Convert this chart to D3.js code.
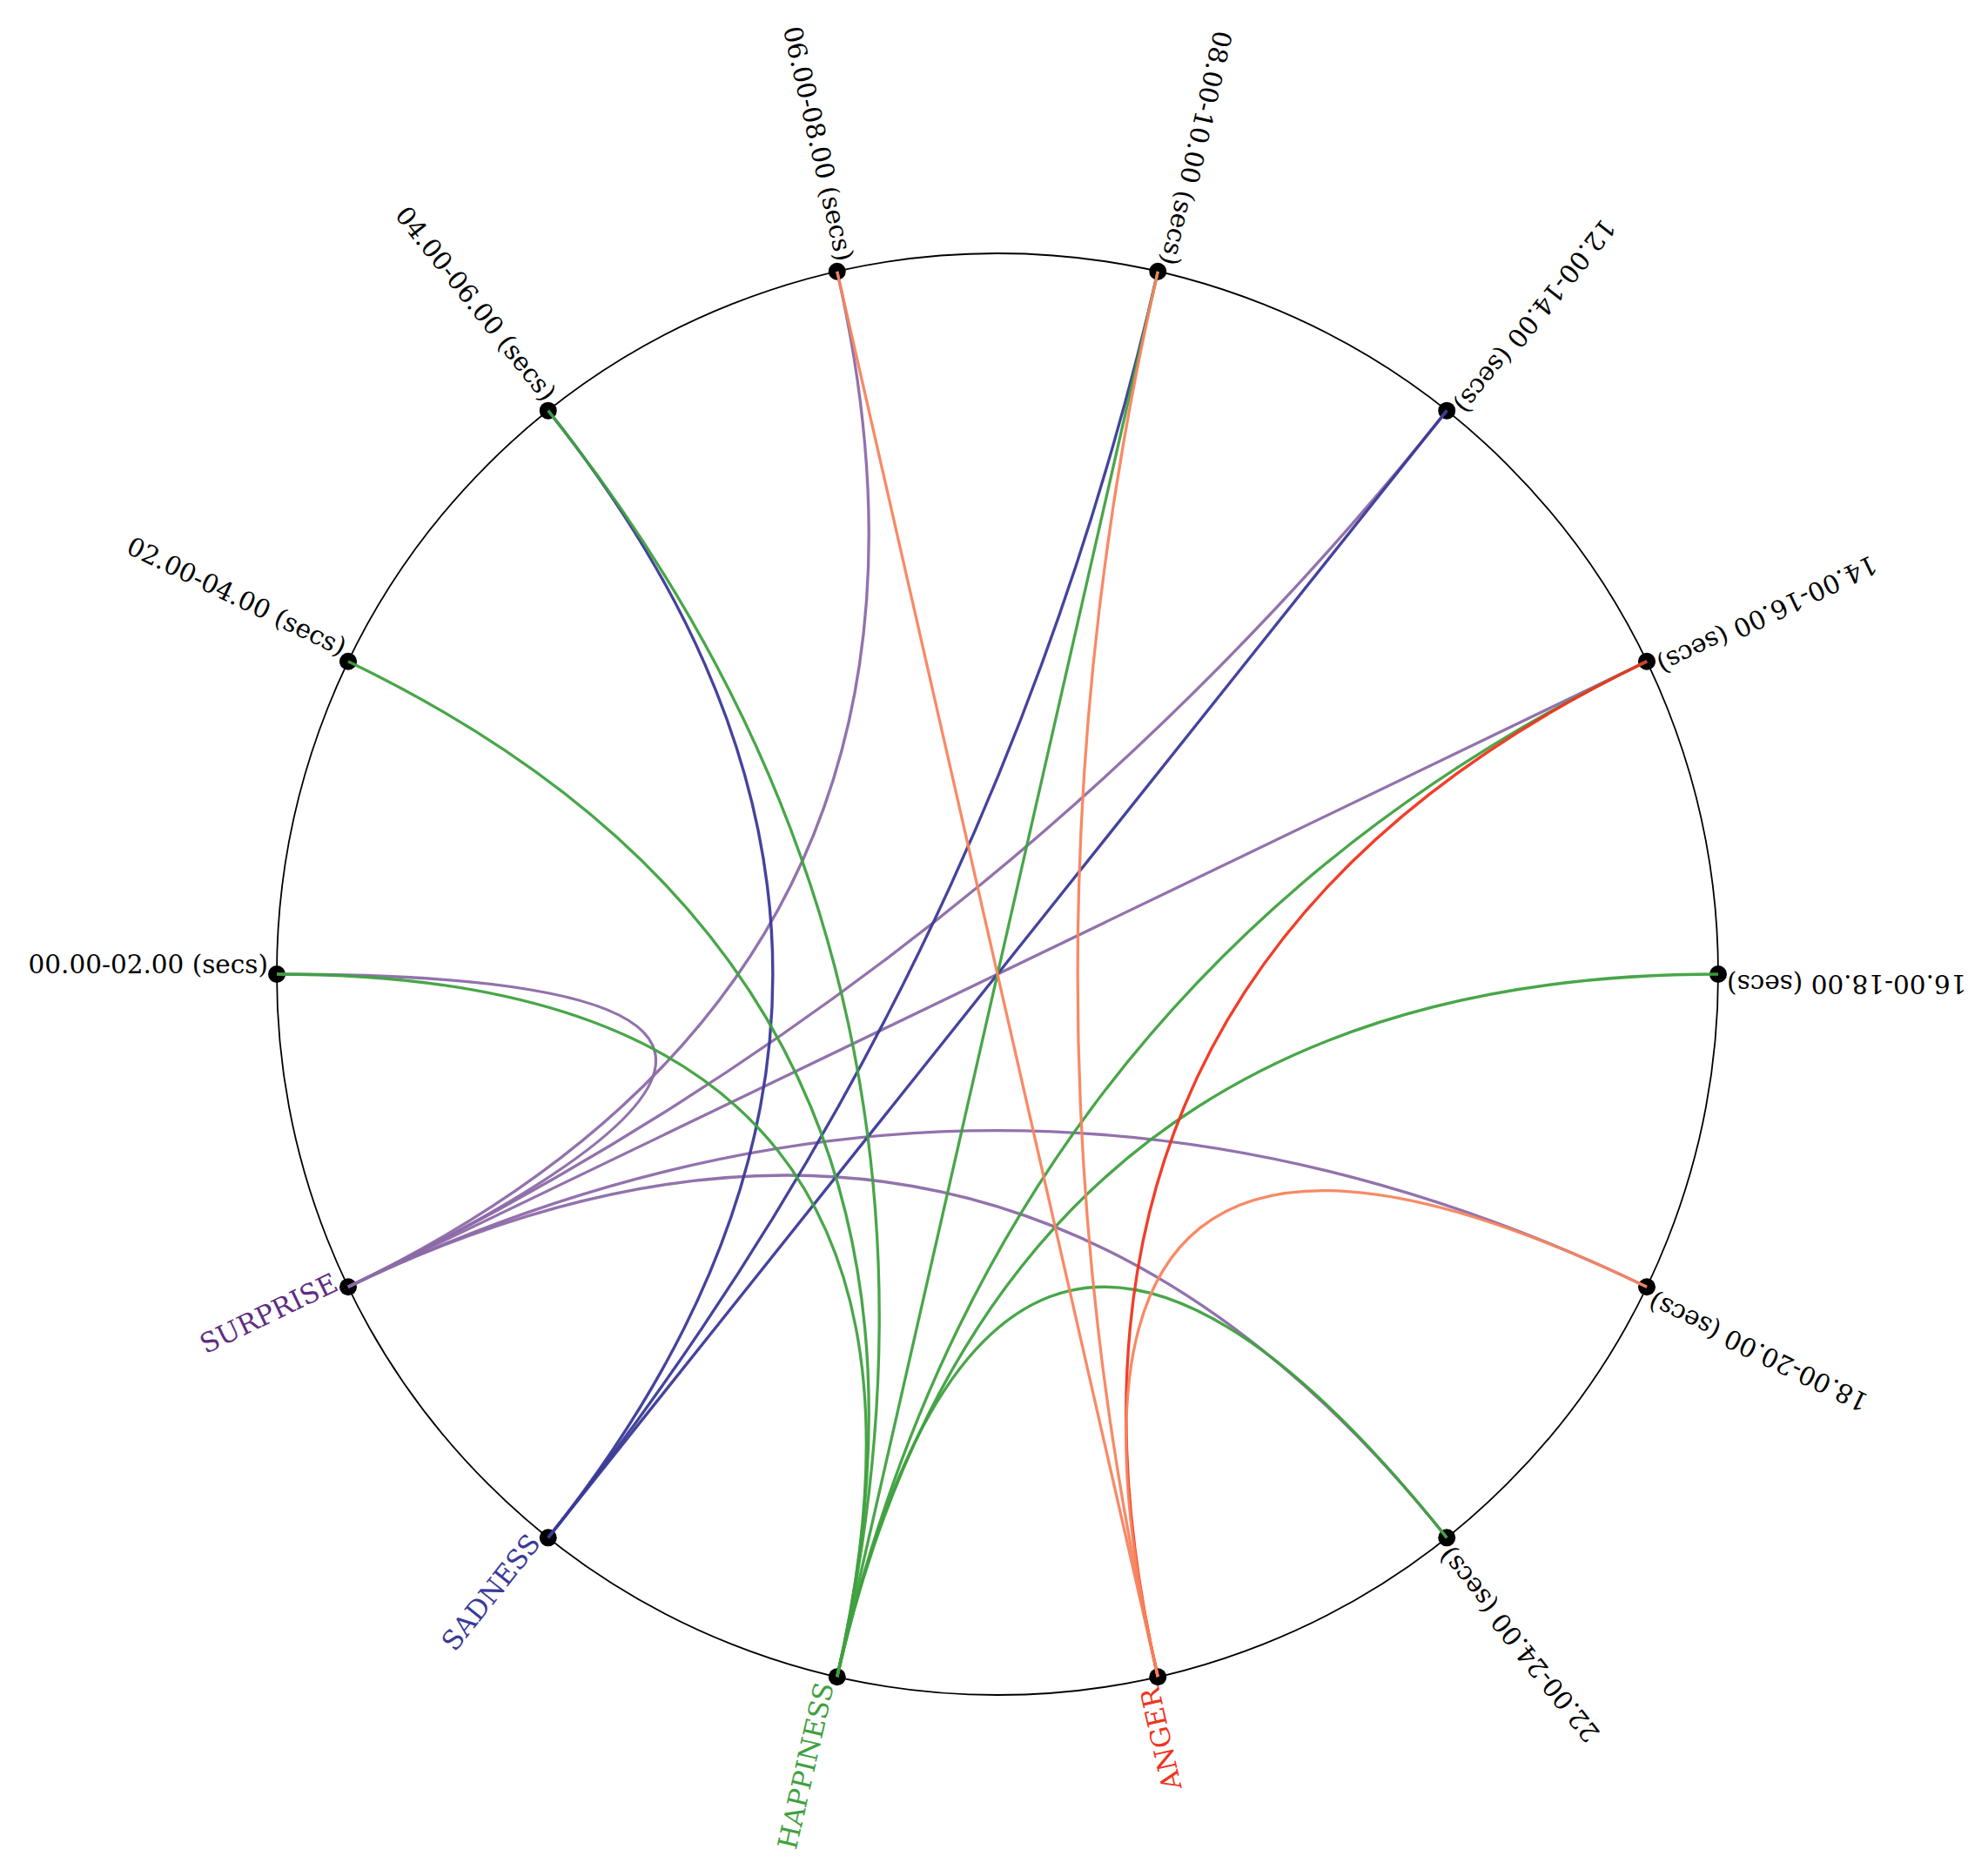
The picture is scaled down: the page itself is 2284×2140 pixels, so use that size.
<!DOCTYPE html>
<html>
<head>
<meta charset="utf-8">
<script src="https://cdn.jsdelivr.net/npm/d3@7/dist/d3.min.js"></script>
<style>
  html, body { margin: 0; padding: 0; background: #fff; }
  .ring { fill: none; stroke: #000; stroke-width: 1.8; }
  .link { fill: none; stroke-width: 3.3; }
  .node-dot { fill: #000; }
  .label { font-family: "DejaVu Serif", serif; }
</style>
</head>
<body>
<div id="chart"></div>
<script>
// Time windows, clockwise from the left side of the circle
var timeSlots = [
    "00.00-02.00 (secs)", "02.00-04.00 (secs)", "04.00-06.00 (secs)",
    "06.00-08.00 (secs)", "08.00-10.00 (secs)", "12.00-14.00 (secs)",
    "14.00-16.00 (secs)", "16.00-18.00 (secs)", "18.00-20.00 (secs)",
    "22.00-24.00 (secs)"
];
var emotions = ["ANGER", "HAPPINESS", "SADNESS", "SURPRISE"];

// Links per emotion: the time slot it shows up in and a strength (weak / strong)
var angerSlots      = ["06.00-08.00 (secs)", "08.00-10.00 (secs)", "14.00-16.00 (secs)", "18.00-20.00 (secs)"];
var angerStrength   = [0.6, 0.6, 1, 0.6];
var happinessSlots  = ["00.00-02.00 (secs)", "02.00-04.00 (secs)", "04.00-06.00 (secs)", "08.00-10.00 (secs)",
                       "14.00-16.00 (secs)", "16.00-18.00 (secs)", "22.00-24.00 (secs)"];
var happinessStrength = [1, 1, 1, 1, 1, 1, 1];
var sadnessSlots    = ["04.00-06.00 (secs)", "08.00-10.00 (secs)", "12.00-14.00 (secs)"];
var sadnessStrength = [1, 1, 1];
var surpriseSlots   = ["00.00-02.00 (secs)", "06.00-08.00 (secs)", "12.00-14.00 (secs)", "14.00-16.00 (secs)",
                       "18.00-20.00 (secs)", "22.00-24.00 (secs)"];
var surpriseStrength = [0.7, 0.7, 0.7, 0.7, 0.7, 0.7];

var width = 2284, height = 2140;
var cx = 1146, cy = 1119, radius = 828;

var color = d3.scaleOrdinal()
    .domain(emotions)
    .range(["#f0341e", "#3fa13f", "#3a3a98", "#5e2d82"]);
// lighter tone used for the weaker links
var weakColor = d3.scaleOrdinal()
    .domain(emotions)
    .range(["#f7845e", "#6cc06c", "#6a6abf", "#8c6aa8"]);

// Build the link list from the small arrays above
var links = [];
function addLinks(emotion, slots, strength) {
    slots.forEach(function(s, i) {
        links.push({ source: emotion, target: s, strength: strength[i] });
    });
}
addLinks("SURPRISE", surpriseSlots, surpriseStrength);
addLinks("SADNESS", sadnessSlots, sadnessStrength);
addLinks("HAPPINESS", happinessSlots, happinessStrength);
addLinks("ANGER", angerSlots, angerStrength);

var nodes = timeSlots.concat(emotions);

// angle in radians, 0 at top, clockwise; first node sits on the left
var angle = d3.scaleBand()
    .domain(nodes)
    .range([1.5 * Math.PI, 3.5 * Math.PI])
    .paddingInner(0).paddingOuter(0);

function pos(name) {
    var a = angle(name);
    return [radius * Math.sin(a), -radius * Math.cos(a)];
}

var svg = d3.select("#chart").append("svg")
    .attr("width", width)
    .attr("height", height);

var g = svg.append("g").attr("transform", "translate(" + cx + "," + cy + ")");

g.append("circle").attr("class", "ring").attr("r", radius);

// Node dots
g.selectAll(".node-dot")
    .data(nodes)
    .enter().append("circle")
    .attr("class", "node-dot")
    .attr("r", 10)
    .attr("cx", function(d) { return pos(d)[0]; })
    .attr("cy", function(d) { return pos(d)[1]; });

// Links: quadratic curve pulled through the centre
g.selectAll(".link")
    .data(links)
    .enter().append("path")
    .attr("class", "link")
    .attr("stroke", function(d) { return d.strength < 1 ? weakColor(d.source) : color(d.source); })
    .attr("stroke-opacity", 0.95)
    .attr("d", function(d) {
        var s = pos(d.source), t = pos(d.target);
        var p = d3.path();
        p.moveTo(s[0], s[1]);
        p.quadraticCurveTo(0, 0, t[0], t[1]);
        return p.toString();
    });

// Labels, always reading toward the node from outside
g.selectAll(".label")
    .data(nodes)
    .enter().append("text")
    .attr("class", "label")
    .attr("transform", function(d) {
        return "rotate(" + (angle(d) * 180 / Math.PI - 90) + ") translate(" + radius + ",0) rotate(180)";
    })
    .attr("x", -10)
    .attr("dy", "-0.05em")
    .attr("text-anchor", "end")
    .attr("font-size", function(d) { return emotions.indexOf(d) >= 0 ? 31 : 29.5; })
    .attr("fill", function(d) { return emotions.indexOf(d) >= 0 ? color(d) : "#000"; })
    .text(function(d) { return d; });
</script>
</body>
</html>
